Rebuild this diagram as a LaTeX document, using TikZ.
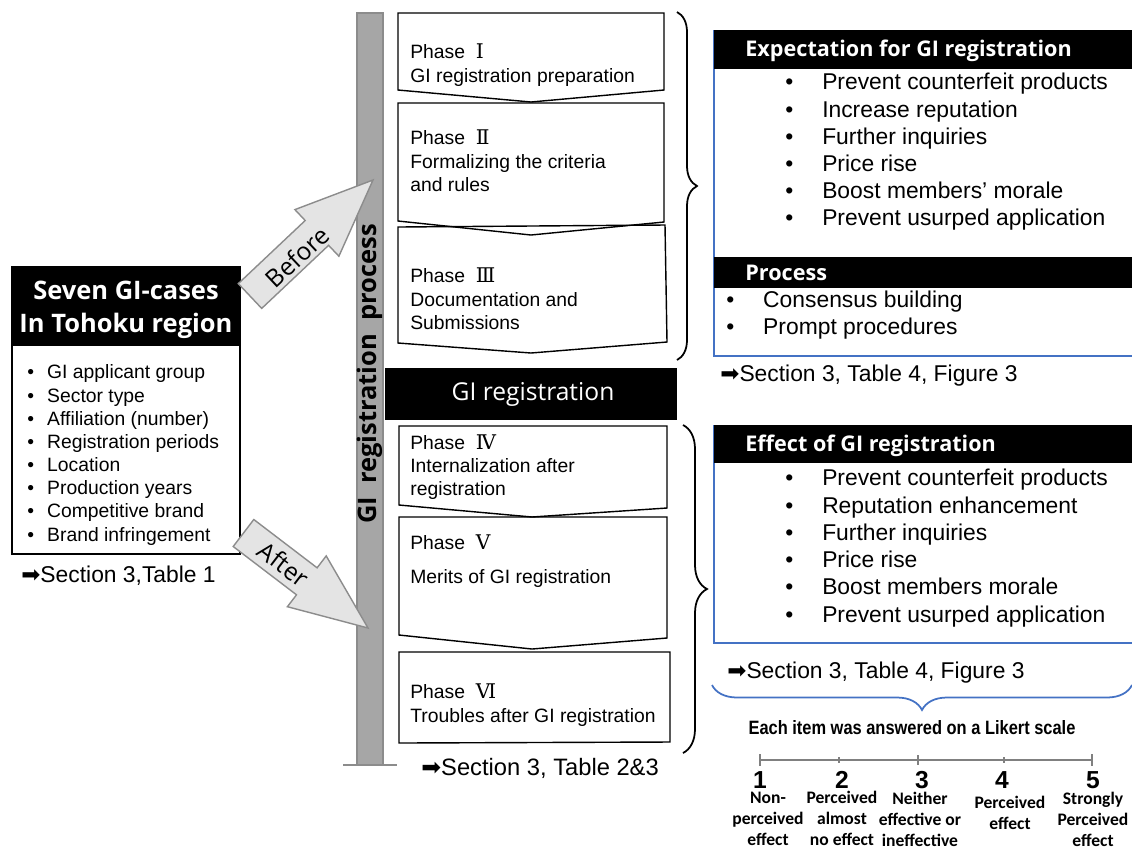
\documentclass[tikz,border=0pt]{standalone}
\usepackage{graphicx}
\usepackage{fontspec}
\setmainfont{Liberation Sans}
\newfontfamily\headfont{Open Sans}
\newfontfamily\likfont{Carlito}
\newfontfamily\dingfont{DejaVu Sans}
\newfontfamily\numfont{DejaVu Serif}
\usetikzlibrary{decorations.pathreplacing}

\definecolor{barGray}{HTML}{A6A6A6}
\definecolor{barEdge}{HTML}{8C8C8C}
\definecolor{arrowFill}{HTML}{E4E4E4}
\definecolor{boxBlue}{HTML}{4472C4}

\newcommand{\seearrow}{{\dingfont\symbol{"27A1}}}
\newcommand{\rn}[1]{\hspace{3pt}{\numfont\fontsize{11.5}{13.3}\selectfont #1}}
\newcommand{\bul}[2]{\makebox[#1][l]{\textbullet}#2}

\begin{document}
\begin{tikzpicture}[x=0.02cm, y=-0.02cm,
    phase_box/.style={draw, line width=0.8pt},
    phase_text/.style={anchor=west, align=left, inner sep=0pt, font=\fontsize{11}{13.3}\selectfont},
    list_text/.style={anchor=west, align=left, inner sep=0pt},
    head_text/.style={anchor=west, inner sep=0pt, text=white, font=\headfont\bfseries\fontsize{12.3}{14}\selectfont},
    sec_ref/.style={anchor=west, inner sep=0pt, font=\fontsize{13}{15}\selectfont},
    big_arrow/.style={draw=barEdge, fill=arrowFill, line width=0.8pt, line join=miter},
    arrow_text/.style={inner sep=0pt, font=\headfont\fontsize{14}{16}\selectfont},
    lik_label/.style={align=center, inner sep=0pt, font=\likfont\bfseries\fontsize{10}{12}\selectfont}]

    \useasboundingbox (0,0) rectangle (1132,850);

    % left box
    \draw[line width=0.8pt] (12,267) rectangle (240,554);
    \fill (12,267) rectangle (240,346);
    \node[align=center, inner sep=0pt, text=white, font=\headfont\bfseries\fontsize{14.5}{19}\selectfont] (cases) at (126,310) {Seven GI-cases\\In Tohoku region};
    \node[list_text, font=\fontsize{11}{13.2}\selectfont] (items) at (27,455) {\bul{11.3pt}{GI applicant group}\\ \bul{11.3pt}{Sector type}\\ \bul{11.3pt}{Affiliation (number)}\\ \bul{11.3pt}{Registration periods}\\ \bul{11.3pt}{Location}\\ \bul{11.3pt}{Production years}\\ \bul{11.3pt}{Competitive brand}\\ \bul{11.3pt}{Brand infringement}};
    \node[sec_ref] (ref1) at (21,576) {\seearrow Section 3,Table 1};

    % phase boxes
    \draw[phase_box] (398,13) -- (664,13) -- (664,90) -- (531,102) -- (398,90) -- cycle;
    \draw[phase_box] (398,103) -- (664,103) -- (664,222) -- (531,235) -- (398,221) -- cycle;
    \draw[phase_box] (398,227) -- (665,225) -- (667,342) -- (531,353) -- (398,343) -- cycle;
    \draw[phase_box] (399,426) -- (667,426) -- (667,508) -- (532,517) -- (399,505) -- cycle;
    \draw[phase_box] (399,517) -- (667,517) -- (667,638) -- (532,649) -- (399,635) -- cycle;
    \draw[phase_box] (399,652) -- (670,652) -- (670,742) -- (399,743) -- cycle;
    \node[phase_text] (ph1) at (410,65) {Phase \rn{Ⅰ}\\GI registration preparation};
    \node[phase_text] (ph2) at (410,161) {Phase \rn{Ⅱ}\\Formalizing the criteria\\and rules};
    \node[phase_text] (ph3) at (410,299) {Phase \rn{Ⅲ}\\Documentation and\\Submissions};
    \node[phase_text] (ph4) at (410,467) {Phase \rn{Ⅳ}\\Internalization after\\registration};
    \node[phase_text] (ph5) at (410,561) {Phase \rn{Ⅴ}\\[6pt]Merits of GI registration};
    \node[phase_text] (ph6) at (410,705) {Phase \rn{Ⅵ}\\Troubles after GI registration};
    \node[sec_ref, font=\fontsize{13.5}{15}\selectfont] (ref2) at (421,768) {\seearrow Section 3, Table 2\&3};

    % process bar
    \draw[barEdge, fill=barGray, line width=0.8pt] (357,13) rectangle (383,765);
    \draw[barEdge, line width=0.8pt] (343,765) -- (397,765);
    \node[rotate=90, inner sep=0pt, font=\headfont\bfseries\fontsize{14.5}{16}\selectfont] (process) at (370,374) {GI~ registration~ process};

    % before / after
    \draw[big_arrow] (238.3,283.6) -- (305.2,220.5) -- (294.9,209.6) -- (373,180) -- (338.9,256.2) -- (328.6,245.3) -- (261.7,308.4) -- cycle;
    \node[arrow_text, rotate=43.3] (before) at (297,257) {Before};
    \draw[big_arrow] (253.8,519.5) -- (317.1,567.8) -- (326.2,555.9) -- (368,628) -- (287.4,606.7) -- (296.5,594.8) -- (233.2,546.5) -- cycle;
    \node[arrow_text, rotate=-37.4] (after) at (284,564) {After};

    % registration bar
    \fill (385,368) rectangle (677,420);
    \node[inner sep=0pt, text=white, font=\headfont\fontsize{14}{16}\selectfont] (reg) at (533,394) {GI registration};

    % braces
    \draw[decorate, decoration={brace, amplitude=0.4cm}, line width=1pt] (677,12) -- (677,360);
    \draw[decorate, decoration={brace, amplitude=0.48cm}, line width=1pt] (683,425) -- (683,753);

    % expectation box
    \draw[boxBlue, line width=0.8pt] (714,30) -- (714,356) -- (1132,356);
    \fill (714,30) rectangle (1132,69);
    \node[head_text] (expect) at (745,51) {Expectation for GI registration};
    \node[list_text, font=\fontsize{13}{15.5}\selectfont] (expitems) at (785,152) {\bul{21pt}{Prevent counterfeit products}\\ \bul{21pt}{Increase reputation}\\ \bul{21pt}{Further inquiries}\\ \bul{21pt}{Price rise}\\ \bul{21pt}{Boost members’ morale}\\ \bul{21pt}{Prevent usurped application}};
    \fill (714,257) rectangle (1132,288);
    \node[head_text] (proc) at (745,273) {Process};
    \node[list_text, font=\fontsize{13}{15.5}\selectfont] (procitems) at (726,315) {\bul{21pt}{Consensus building}\\ \bul{21pt}{Prompt procedures}};
    \node[sec_ref] (ref3) at (720,376) {\seearrow Section 3, Table 4, Figure 3};

    % effect box
    \draw[boxBlue, line width=0.8pt] (714,425) -- (714,643) -- (1132,643);
    \fill (714,425) rectangle (1132,463);
    \node[head_text] (effect) at (745,446) {Effect of GI registration};
    \node[list_text, font=\fontsize{13}{15.5}\selectfont] (effitems) at (785,548) {\bul{21pt}{Prevent counterfeit products}\\ \bul{21pt}{Reputation enhancement}\\ \bul{21pt}{Further inquiries}\\ \bul{21pt}{Price rise}\\ \bul{21pt}{Boost members morale}\\ \bul{21pt}{Prevent usurped application}};
    \node[sec_ref] (ref4) at (727,673) {\seearrow Section 3, Table 4, Figure 3};

    % likert scale
    \draw[boxBlue, decorate, decoration={brace, amplitude=0.5cm}, line width=1pt] (1132,685) -- (712,685);
    \node[inner sep=0pt, font=\bfseries\fontsize{11}{13}\selectfont] (likert) at (912,728) {\scalebox{0.85}[1]{Each item was answered on a Likert scale}};
    \draw[gray, line width=1pt] (760,760) -- (1092,760);
    \foreach \tx/\nx/\n/\h in {760/760/1/6, 839/842/2/3, 918/922/3/5, 1004/1002/4/3, 1092/1093/5/6} {
        \draw[gray, line width=1pt] (\tx,760-\h) -- (\tx,760+\h);
        \node[inner sep=0pt, font=\bfseries\fontsize{14}{16}\selectfont] (num\n) at (\nx,780) {\n};
    }
    \node[lik_label] (lab1) at (768,819) {Non-\\perceived\\effect};
    \node[lik_label] (lab2) at (842,818) {Perceived\\almost\\no effect};
    \node[lik_label] (lab3) at (920,819) {Neither\\effective or\\ineffective};
    \node[lik_label] (lab4) at (1010,813) {Perceived\\effect};
    \node[lik_label] (lab5) at (1093,819) {Strongly\\Perceived\\effect};
\end{tikzpicture}
\end{document}
